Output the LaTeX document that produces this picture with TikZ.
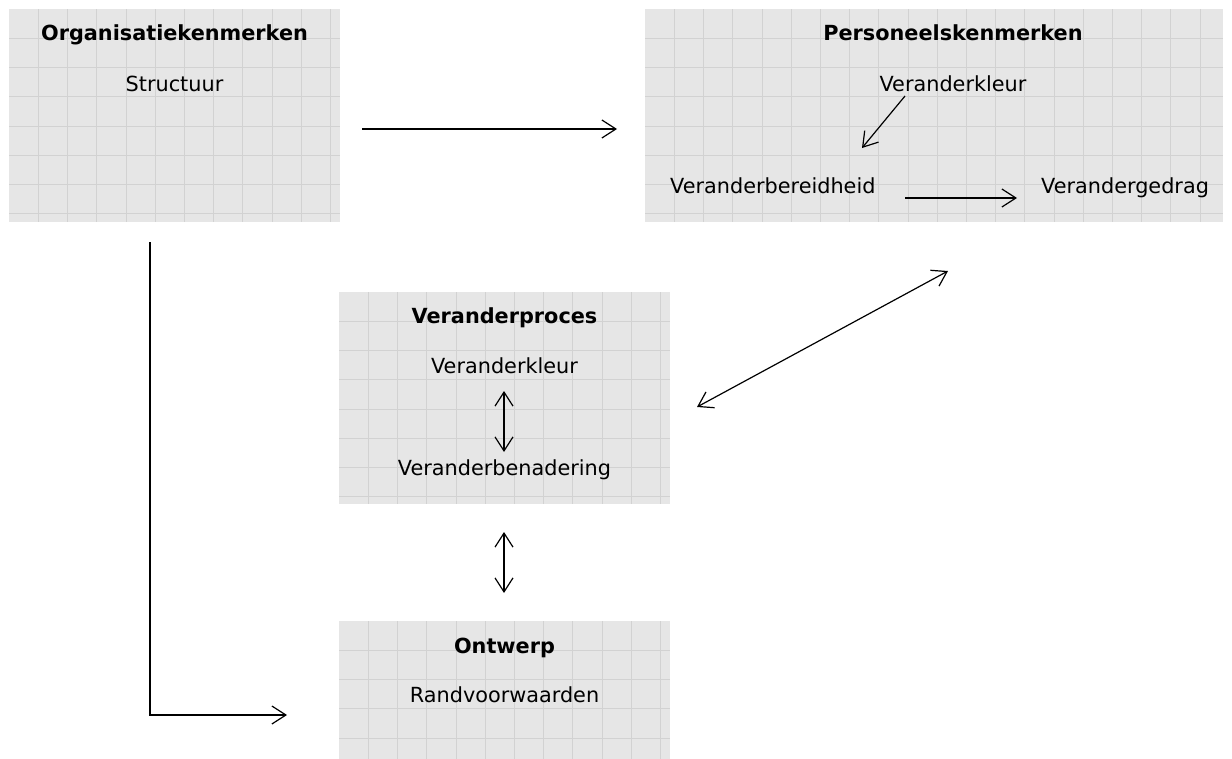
\documentclass[tikz,border=0pt]{standalone}
\usepackage{fontspec}
\setmainfont{DejaVu Sans}
\usetikzlibrary{arrows.meta}
\definecolor{boxfill}{HTML}{E6E6E6}
\definecolor{gridline}{HTML}{D2D2D2}
\begin{document}
\begin{tikzpicture}[x=1pt,y=-1pt,
  gridbox/.style={draw=none, fill=boxfill, inner sep=0pt, anchor=north west,
    path picture={
      \foreach \k in {1,...,25}{
        \draw[gridline, line width=0.8pt]
          ([xshift=\k*29.2pt]path picture bounding box.north west) --
          ([xshift=\k*29.2pt]path picture bounding box.south west);
        \draw[gridline, line width=0.8pt]
          ([yshift=-\k*29.2pt]path picture bounding box.north west) --
          ([yshift=-\k*29.2pt]path picture bounding box.north east);
      }}},
  lbl/.style={inner sep=0pt, anchor=base, font=\fontsize{20.8}{25}\selectfont},
  ttl/.style={lbl, font=\fontsize{20.8}{25}\selectfont\bfseries},
  conn/.style={line width=1.2pt, -{Straight Barb[length=14pt,width=18pt,line width=1.2pt]}},
  dconn/.style={line width=1.2pt, {Straight Barb[length=14pt,width=18pt,line width=1.2pt]}-{Straight Barb[length=14pt,width=18pt,line width=1.2pt]}}
]
\useasboundingbox (0,0) rectangle (1232,758);

% boxes
\node[gridbox, minimum width=331pt, minimum height=213pt] (org) at (9,9) {};
\node[gridbox, minimum width=578pt, minimum height=213pt] (pers) at (645,9) {};
\node[gridbox, minimum width=331pt, minimum height=212pt] (proc) at (339,292) {};
\node[gridbox, minimum width=331pt, minimum height=140pt] (ont) at (339,621) {};

% texts
\node[ttl] (orgT) at (174.5,40) {Organisatiekenmerken};
\node[lbl] (orgS) at (174.5,91) {Structuur};

\node[ttl] (persT) at (953,40) {Personeelskenmerken};
\node[lbl] (persK) at (953,91) {Veranderkleur};
\node[lbl, anchor=base west] (persB) at (670,193) {Veranderbereidheid};
\node[lbl, anchor=base west] (persG) at (1041,193) {Verandergedrag};

\node[ttl] (procT) at (504.5,323) {Veranderproces};
\node[lbl] (procK) at (504.5,373) {Veranderkleur};
\node[lbl] (procB) at (504.5,475) {Veranderbenadering};

\node[ttl] (ontT) at (504.5,653) {Ontwerp};
\node[lbl] (ontR) at (504.5,702) {Randvoorwaarden};

% connector end points
\coordinate (a1s) at (362,129);
\coordinate (a1e) at (617,129);
\coordinate (a2s) at (905,96);
\coordinate (a2e) at (862,148);
\coordinate (a3s) at (905,198);
\coordinate (a3e) at (1017,198);
\coordinate (a4s) at (697,407);
\coordinate (a4e) at (948,271);
\coordinate (a5s) at (504,391);
\coordinate (a5e) at (504,452);
\coordinate (a6s) at (504,532);
\coordinate (a6e) at (504,593);
\coordinate (a7s) at (150,242);
\coordinate (a7e) at (287,715);

% connectors
\draw[conn] (a1s) -- (a1e);
\draw[conn] (a2s) -- (a2e);
\draw[conn] (a3s) -- (a3e);
\draw[dconn] (a4s) -- (a4e);
\draw[dconn] (a5s) -- (a5e);
\draw[dconn] (a6s) -- (a6e);
\draw[conn, line width=1.6pt] (a7s) |- (a7e);
\end{tikzpicture}
\end{document}
